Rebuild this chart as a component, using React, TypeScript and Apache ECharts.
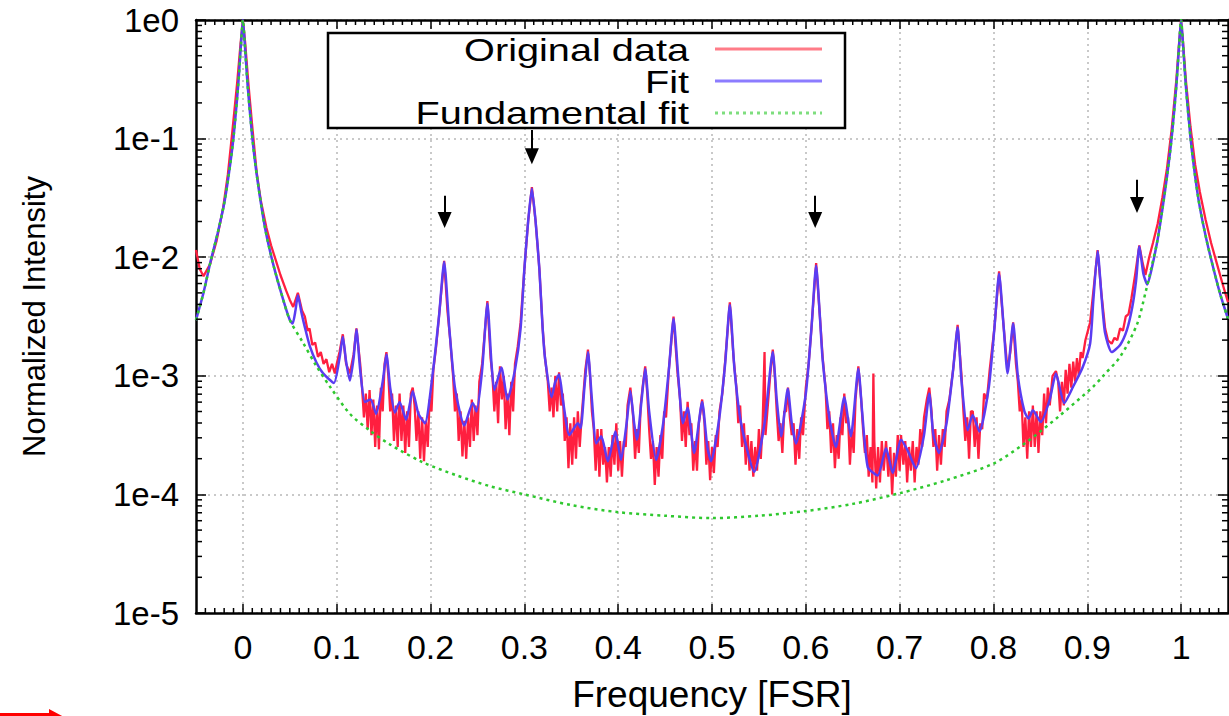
import { useEffect, useRef } from "react";
import * as echarts from "echarts";

// Spectra as [frequency in FSR, log10(normalized intensity)]
const fitLog10: [number, number][] = [
  [-0.05, -2.53], [-0.042, -2.3], [-0.034, -2.02], [-0.027, -1.8], [-0.02, -1.55], [-0.015, -1.3],
  [-0.01, -0.99], [-0.005, -0.55], [-0.002, -0.2], [0, 0], [0.002, -0.2], [0.005, -0.55],
  [0.01, -0.99], [0.015, -1.32], [0.0235, -1.75], [0.032, -2.05], [0.043, -2.36], [0.05, -2.53], [0.053, -2.56],
  [0.056, -2.45], [0.0586, -2.32], [0.0625, -2.47], [0.066, -2.59], [0.0713, -2.75], [0.0785, -2.89],
  [0.0855, -2.98], [0.097, -3.06], [0.103, -2.85], [0.1065, -2.67], [0.11, -2.88], [0.114, -3.04],
  [0.118, -2.85], [0.121, -2.61], [0.125, -2.95], [0.13, -3.22], [0.136, -3.2], [0.142, -3.32],
  [0.149, -3.05], [0.153, -2.82], [0.157, -3.1], [0.162, -3.31], [0.167, -3.22], [0.174, -3.37],
  [0.181, -3.13], [0.187, -3.32], [0.194, -3.4], [0.202, -3.0], [0.209, -2.5], [0.2145, -2.04],
  [0.22, -2.6], [0.226, -3.1], [0.236, -3.42], [0.245, -3.23], [0.249, -3.3], [0.255, -2.95],
  [0.2606, -2.39], [0.265, -2.9], [0.268, -3.12], [0.2755, -2.93], [0.282, -3.2], [0.29, -2.95],
  [0.296, -2.6], [0.3, -2.1], [0.304, -1.7], [0.308, -1.42], [0.312, -1.7], [0.316, -2.1],
  [0.3195, -2.6], [0.322, -2.85], [0.329, -3.18], [0.333, -3.05], [0.337, -2.99], [0.341, -3.2],
  [0.348, -3.5], [0.357, -3.4], [0.36, -3.44], [0.364, -3.1], [0.3678, -2.8], [0.372, -3.2],
  [0.3766, -3.57], [0.382, -3.51], [0.389, -3.72], [0.397, -3.47], [0.403, -3.71], [0.409, -3.4],
  [0.413, -3.13], [0.417, -3.4], [0.42, -3.54], [0.425, -3.2], [0.4288, -2.94], [0.433, -3.3],
  [0.4405, -3.71], [0.448, -3.4], [0.454, -2.95], [0.459, -2.52], [0.464, -3.0], [0.469, -3.4],
  [0.474, -3.27], [0.481, -3.65], [0.4895, -3.22], [0.495, -3.6], [0.499, -3.72], [0.507, -3.4],
  [0.514, -2.9], [0.519, -2.4], [0.524, -2.95], [0.531, -3.4], [0.545, -3.81], [0.556, -3.4],
  [0.5648, -2.8], [0.569, -3.2], [0.5737, -3.51], [0.5808, -3.11], [0.585, -3.4], [0.5896, -3.57],
  [0.6, -3.15], [0.606, -2.6], [0.611, -2.07], [0.615, -2.5], [0.618, -2.87], [0.625, -3.35],
  [0.632, -3.6], [0.641, -3.18], [0.648, -3.51], [0.656, -2.94], [0.66, -3.3], [0.666, -3.77],
  [0.6766, -3.84], [0.6855, -3.61], [0.6926, -3.82], [0.7015, -3.54], [0.7085, -3.63], [0.7174, -3.78],
  [0.726, -3.5], [0.7316, -3.15], [0.736, -3.5], [0.742, -3.65], [0.75, -3.4], [0.757, -2.95],
  [0.7618, -2.59], [0.766, -3.05], [0.7724, -3.46], [0.7778, -3.33], [0.785, -3.47], [0.795, -3.1],
  [0.801, -2.6], [0.806, -2.14], [0.811, -2.6], [0.815, -2.98], [0.821, -2.56], [0.826, -3.0],
  [0.833, -3.3], [0.8375, -3.36], [0.842, -3.29], [0.8505, -3.39], [0.86, -3.2], [0.8666, -2.98],
  [0.8754, -3.23], [0.885, -3.09], [0.895, -2.93], [0.903, -2.73], [0.9065, -2.36], [0.911, -1.95],
  [0.9155, -2.36], [0.919, -2.64], [0.926, -2.8], [0.935, -2.74], [0.942, -2.62], [0.948, -2.42],
  [0.952, -2.2], [0.9555, -1.91], [0.9598, -2.14], [0.964, -2.23], [0.968, -2.12], [0.975, -1.85],
  [0.98, -1.6], [0.985, -1.32], [0.99, -0.99], [0.995, -0.55], [0.998, -0.2], [1, 0],
  [1.002, -0.2], [1.005, -0.55], [1.01, -0.99], [1.015, -1.32], [1.02, -1.58], [1.027, -1.85],
  [1.034, -2.08], [1.042, -2.32], [1.05, -2.52],
];

const fundamentalLog10: [number, number][] = [
  [-0.05, -2.53], [-0.042, -2.3], [-0.034, -2.02], [-0.027, -1.8], [-0.02, -1.55], [-0.015, -1.3],
  [-0.01, -0.99], [-0.005, -0.55], [-0.002, -0.2], [0, 0], [0.002, -0.2], [0.005, -0.55],
  [0.01, -0.99], [0.015, -1.32], [0.0235, -1.75], [0.032, -2.05], [0.043, -2.36], [0.05, -2.53], [0.064, -2.72],
  [0.0785, -2.92], [0.0927, -3.09], [0.114, -3.32], [0.135, -3.46], [0.157, -3.58], [0.192, -3.73],
  [0.228, -3.84], [0.263, -3.93], [0.3, -4.0], [0.35, -4.09], [0.4, -4.15], [0.45, -4.18],
  [0.5, -4.2], [0.55, -4.18], [0.6, -4.14], [0.65, -4.08], [0.7, -3.99], [0.75, -3.88],
  [0.8, -3.74], [0.835, -3.56], [0.87, -3.34], [0.9065, -3.09], [0.917, -3.0], [0.935, -2.84],
  [0.9528, -2.57], [0.962, -2.3], [0.968, -2.1], [0.975, -1.85], [0.98, -1.6], [0.985, -1.32],
  [0.99, -0.99], [0.995, -0.55], [0.998, -0.2], [1, 0], [1.002, -0.2], [1.005, -0.55],
  [1.01, -0.99], [1.015, -1.32], [1.02, -1.58], [1.027, -1.85], [1.034, -2.08], [1.042, -2.32],
  [1.05, -2.52],
];

const originalLog10: [number, number][] = [
  [-0.05, -1.94], [-0.046, -2.1], [-0.042, -2.16], [-0.035, -2.06], [-0.028, -1.86], [-0.021, -1.58],
  [-0.016, -1.3], [-0.011, -0.92], [-0.006, -0.52], [-0.0025, -0.2], [0, 0], [0.0025, -0.2],
  [0.006, -0.55], [0.01, -0.9], [0.0146, -1.28], [0.019, -1.52], [0.025, -1.75], [0.03, -1.9],
  [0.034, -2.0], [0.04, -2.15], [0.046, -2.28], [0.05, -2.36], [0.0536, -2.42], [0.0586, -2.3],
  [0.063, -2.45], [0.066, -2.5], [0.069, -2.62], [0.071, -2.6], [0.074, -2.74], [0.077, -2.72],
  [0.08, -2.84], [0.083, -2.8], [0.086, -2.9], [0.089, -2.86], [0.092, -2.97], [0.095, -2.9],
  [0.098, -2.98], [0.1, -2.9], [0.103, -2.8], [0.1065, -2.65], [0.11, -2.9], [0.114, -2.98],
  [0.118, -2.82], [0.121, -2.6], [0.125, -2.9],
  [0.127, -3.1], [0.129, -3.35], [0.131, -3.15], [0.133, -3.45], [0.135, -3.12], [0.137, -3.5],
  [0.139, -3.2], [0.141, -3.6], [0.143, -3.25], [0.145, -3.62], [0.147, -3.1], [0.149, -3.3],
  [0.151, -2.9], [0.153, -2.8], [0.155, -3.0], [0.157, -3.3], [0.159, -3.15], [0.161, -3.55],
  [0.163, -3.25], [0.165, -3.6], [0.167, -3.15], [0.169, -3.55], [0.171, -3.25], [0.173, -3.65],
  [0.175, -3.3], [0.177, -3.6], [0.179, -3.15], [0.181, -3.1], [0.183, -3.25], [0.185, -3.55],
  [0.187, -3.3], [0.189, -3.7], [0.191, -3.35], [0.193, -3.72], [0.195, -3.38], [0.197, -3.6],
  [0.199, -3.2], [0.201, -3.3], [0.203, -2.95], [0.206, -2.75], [0.209, -2.5], [0.2145, -2.03],
  [0.218, -2.45], [0.221, -2.7], [0.224, -3.0], [0.226, -3.3], [0.228, -3.15], [0.23, -3.55],
  [0.232, -3.3], [0.234, -3.68], [0.236, -3.38], [0.238, -3.7], [0.24, -3.35], [0.242, -3.6],
  [0.244, -3.2], [0.246, -3.55], [0.248, -3.25], [0.25, -3.5], [0.252, -3.05], [0.255, -2.9],
  [0.2606, -2.37], [0.264, -2.85], [0.266, -3.0], [0.268, -3.3], [0.27, -3.05], [0.272, -3.4],
  [0.274, -2.92], [0.276, -3.2], [0.278, -3.0], [0.28, -3.45], [0.282, -3.15], [0.284, -3.5],
  [0.286, -3.05], [0.288, -3.3], [0.29, -2.9], [0.293, -2.75], [0.296, -2.55], [0.3, -2.1],
  [0.304, -1.7], [0.308, -1.41], [0.312, -1.7], [0.316, -2.1], [0.3195, -2.6], [0.322, -2.85],
  [0.325, -3.05], [0.327, -3.3], [0.329, -3.1], [0.331, -3.35], [0.333, -3.0], [0.335, -3.3],
  [0.337, -2.97], [0.339, -3.25], [0.341, -3.15], [0.343, -3.55], [0.345, -3.35], [0.347, -3.78],
  [0.349, -3.4], [0.351, -3.75], [0.353, -3.35], [0.355, -3.7], [0.357, -3.3], [0.359, -3.6],
  [0.361, -3.35], [0.363, -3.15], [0.365, -2.95], [0.3678, -2.78], [0.37, -3.0], [0.372, -3.3],
  [0.374, -3.45], [0.376, -3.8], [0.378, -3.45], [0.38, -3.85], [0.382, -3.45], [0.384, -3.75],
  [0.386, -3.6], [0.388, -3.9], [0.39, -3.6], [0.392, -3.85], [0.394, -3.5], [0.396, -3.75],
  [0.398, -3.4], [0.4, -3.8], [0.402, -3.55], [0.404, -3.85], [0.406, -3.55], [0.408, -3.6],
  [0.41, -3.25], [0.413, -3.1], [0.416, -3.35], [0.418, -3.7], [0.42, -3.45], [0.422, -3.65],
  [0.424, -3.25], [0.426, -3.1], [0.4288, -2.92], [0.431, -3.15], [0.433, -3.45], [0.435, -3.7],
  [0.437, -3.55], [0.439, -3.92], [0.441, -3.6], [0.443, -3.85], [0.445, -3.5], [0.447, -3.7],
  [0.449, -3.3], [0.451, -3.35], [0.454, -2.95], [0.459, -2.5], [0.463, -2.95], [0.466, -3.2],
  [0.468, -3.55], [0.47, -3.3], [0.472, -3.6], [0.474, -3.22], [0.476, -3.5], [0.478, -3.4],
  [0.48, -3.8], [0.482, -3.55], [0.484, -3.8], [0.486, -3.4], [0.4895, -3.2], [0.492, -3.4],
  [0.494, -3.75], [0.496, -3.55], [0.498, -3.88], [0.5, -3.6], [0.502, -3.82], [0.504, -3.5],
  [0.506, -3.6], [0.508, -3.3], [0.511, -3.15], [0.514, -2.88], [0.519, -2.38], [0.523, -2.85],
  [0.526, -3.1], [0.528, -3.4], [0.53, -3.25], [0.532, -3.6], [0.534, -3.4], [0.536, -3.75],
  [0.538, -3.5], [0.54, -3.8], [0.542, -3.55], [0.544, -3.85], [0.546, -3.6], [0.548, -3.8],
  [0.55, -3.45], [0.552, -3.7], [0.554, -3.4], [0.556, -2.8], [0.557, -3.5], [0.559, -3.3],
  [0.562, -3.0], [0.5648, -2.78], [0.567, -3.0], [0.569, -3.3], [0.571, -3.55], [0.573, -3.4],
  [0.575, -3.65], [0.577, -3.3], [0.579, -3.3], [0.581, -3.1], [0.583, -3.35], [0.585, -3.5],
  [0.587, -3.4], [0.589, -3.75], [0.591, -3.45], [0.593, -3.7], [0.595, -3.35], [0.597, -3.5],
  [0.6, -3.1], [0.603, -2.9], [0.606, -2.6], [0.611, -2.05], [0.615, -2.5], [0.618, -2.85],
  [0.621, -3.1], [0.623, -3.45], [0.625, -3.3], [0.627, -3.65], [0.629, -3.4], [0.631, -3.78],
  [0.633, -3.5], [0.635, -3.7], [0.637, -3.35], [0.639, -3.5], [0.641, -3.15], [0.643, -3.4],
  [0.645, -3.35], [0.647, -3.75], [0.649, -3.45], [0.651, -3.65], [0.653, -3.2], [0.656, -2.92],
  [0.659, -3.2], [0.661, -3.45], [0.663, -3.65], [0.665, -3.5], [0.667, -3.85], [0.669, -3.6],
  [0.671, -3.9], [0.672, -2.98], [0.673, -3.55], [0.675, -3.95], [0.677, -3.6], [0.679, -3.9],
  [0.681, -3.55], [0.683, -3.8], [0.6855, -3.55], [0.688, -3.85], [0.69, -3.6], [0.692, -4.0],
  [0.694, -3.65], [0.696, -3.85], [0.698, -3.5], [0.7, -3.8], [0.7015, -3.5], [0.704, -3.75],
  [0.706, -3.55], [0.708, -3.9], [0.71, -3.6], [0.712, -3.8], [0.714, -3.55], [0.716, -3.9],
  [0.718, -3.6], [0.72, -3.75], [0.722, -3.45], [0.724, -3.6], [0.726, -3.35], [0.729, -3.2],
  [0.7316, -3.1], [0.734, -3.3], [0.736, -3.6], [0.738, -3.45], [0.74, -3.8], [0.742, -3.5],
  [0.744, -3.75], [0.746, -3.45], [0.748, -3.6], [0.75, -3.3], [0.753, -3.2], [0.757, -2.95],
  [0.7618, -2.57], [0.766, -3.0], [0.768, -3.3], [0.77, -3.55], [0.772, -3.35], [0.774, -3.7],
  [0.776, -3.3], [0.778, -3.3], [0.78, -3.6], [0.782, -3.35], [0.784, -3.7], [0.786, -3.4],
  [0.788, -3.45], [0.79, -3.15], [0.793, -3.2], [0.796, -2.95], [0.801, -2.6], [0.806, -2.12],
  [0.811, -2.6], [0.815, -2.95], [0.818, -2.8], [0.821, -2.55], [0.824, -2.9], [0.826, -3.05],
  [0.828, -3.3], [0.83, -3.2], [0.832, -3.6], [0.834, -3.35], [0.836, -3.7], [0.838, -3.3],
  [0.84, -3.6], [0.842, -3.25], [0.844, -3.6], [0.846, -3.3], [0.848, -3.65], [0.85, -3.3],
  [0.852, -3.5], [0.854, -3.15], [0.856, -3.4], [0.858, -3.1], [0.86, -3.25], [0.863, -3.0],
  [0.8666, -2.96], [0.869, -3.05], [0.871, -3.3], [0.873, -3.05], [0.875, -3.25], [0.877, -2.95],
  [0.879, -3.15], [0.881, -2.9], [0.883, -3.1], [0.885, -2.88], [0.887, -3.05], [0.889, -2.85],
  [0.891, -3.0], [0.893, -2.8], [0.895, -2.85], [0.898, -2.7], [0.903, -2.55], [0.907, -2.25],
  [0.911, -1.94], [0.915, -2.3], [0.919, -2.6], [0.922, -2.7], [0.926, -2.73], [0.929, -2.68],
  [0.932, -2.7], [0.935, -2.6], [0.938, -2.62], [0.941, -2.5], [0.944, -2.48], [0.947, -2.35],
  [0.951, -2.15], [0.9555, -1.9], [0.959, -2.05], [0.962, -2.15], [0.966, -2.0], [0.97, -1.88],
  [0.975, -1.72], [0.98, -1.5], [0.985, -1.25], [0.99, -0.92], [0.995, -0.5], [0.998, -0.18],
  [1, 0], [1.002, -0.18], [1.005, -0.5], [1.01, -0.9], [1.015, -1.22], [1.02, -1.45],
  [1.026, -1.68], [1.032, -1.88], [1.038, -2.05], [1.044, -2.22], [1.05, -2.38],
];

const xTickValues = [0, 0.1, 0.2, 0.3, 0.4, 0.5, 0.6, 0.7, 0.8, 0.9, 1];
const legendNames = ["Original data", "Fit", "Fundamental fit"];
const seriesColors = ["#ff1f3f", "#5a3cf2", "#2fc82f"];
const legendColors = ["#ff7c88", "#8c7cff", "#7ede7e"];

// Arrows pointing at selected resonances: frequency, tail and head intensity
const arrowX = [0.215, 0.308, 0.61, 0.953];
const arrowTail = [3.3e-2, 0.118, 3.3e-2, 4.5e-2];
const arrowHead = [2.06e-2, 7.1e-2, 2.06e-2, 2.75e-2];

const FONT = "'Liberation Sans', Arial, Helvetica, sans-serif";

const toSeries = (pts: [number, number][]) => pts.map(([x, l]) => [x, Math.pow(10, l)]);

export default function App() {
  const ref = useRef<HTMLDivElement>(null);

  useEffect(() => {
    const el = ref.current;
    if (!el) return;
    const chart = echarts.init(el, null, { renderer: "svg" });

    const frameLine = { show: true, onZero: false, lineStyle: { color: "#000", width: 2.5 } };
    const tickStyle = { color: "#000", width: 1.5 };
    const gridLine = { show: true, lineStyle: { color: "#b8b8b8", width: 1.5, type: [2, 4] } };

    chart.setOption({
      animation: false,
      backgroundColor: "#ffffff",
      grid: { left: 196, right: 1, top: 20, bottom: 103, containLabel: false, outerBoundsMode: "none" },
      xAxis: [
        {
          type: "value",
          min: -0.05,
          max: 1.05,
          splitNumber: 11,
          axisLine: frameLine,
          axisTick: { show: true, inside: true, length: 9, customValues: xTickValues, lineStyle: tickStyle },
          axisLabel: {
            customValues: xTickValues,
            margin: 17,
            color: "#000",
            fontSize: 34,
            fontFamily: FONT,
            formatter: (v: number) => String(Math.round(v * 10) / 10),
          },
          splitLine: gridLine,
          name: "Frequency [FSR]",
          nameLocation: "middle",
          nameGap: 63,
          nameTextStyle: { color: "#000", fontSize: 37, fontFamily: FONT },
        },
        {
          type: "value",
          position: "top",
          min: -0.05,
          max: 1.05,
          splitNumber: 11,
          axisLine: frameLine,
          axisTick: { show: true, inside: true, length: 9, customValues: xTickValues, lineStyle: tickStyle },
          axisLabel: { show: false },
          splitLine: { show: false },
        },
      ],
      yAxis: [
        {
          type: "log",
          logBase: 10,
          min: 1e-5,
          max: 1,
          axisLine: frameLine,
          axisTick: { show: true, inside: true, length: 10, lineStyle: tickStyle },
          axisLabel: {
            margin: 17,
            color: "#000",
            fontSize: 33,
            fontFamily: FONT,
            formatter: (v: number) => `1e${Math.round(Math.log10(v))}`,
          },
          splitLine: gridLine,
          name: "Normalized Intensity",
          nameLocation: "middle",
          nameGap: 146,
          nameTextStyle: { color: "#000", fontSize: 31, fontFamily: FONT },
        },
        {
          type: "log",
          logBase: 10,
          position: "right",
          min: 1e-5,
          max: 1,
          axisLine: frameLine,
          axisTick: { show: true, inside: true, length: 10, lineStyle: tickStyle },
          axisLabel: { show: false },
          splitLine: { show: false },
        },
      ],
      series: [
        {
          name: legendNames[0],
          type: "line",
          data: toSeries(originalLog10),
          symbol: "none",
          lineStyle: { color: seriesColors[0], width: 2.3 },
          z: 2,
        },
        {
          name: legendNames[1],
          type: "line",
          data: toSeries(fitLog10),
          symbol: "none",
          smooth: 0.2,
          lineStyle: { color: seriesColors[1], width: 2.5 },
          z: 3,
          markLine: {
            silent: true,
            symbol: ["none", "triangle"],
            symbolSize: [14, 16],
            label: { show: false },
            emphasis: { disabled: true },
            lineStyle: { color: "#000", width: 2, type: "solid" },
            data: arrowX.map((x, i) => [{ coord: [x, arrowTail[i]] }, { coord: [x, arrowHead[i]] }]),
          },
        },
        {
          name: legendNames[2],
          type: "line",
          data: toSeries(fundamentalLog10),
          symbol: "none",
          smooth: 0.3,
          lineStyle: { color: seriesColors[2], width: 2.5, type: [3, 4] },
          z: 4,
        },
      ],
    });

    // Minor ticks on all four frame sides, placed through the axis scales
    const px = (v: number) => chart.convertToPixel({ xAxisIndex: 0 }, v) as number;
    const py = (v: number) => chart.convertToPixel({ yAxisIndex: 0 }, v) as number;
    const left = px(-0.05);
    const right = px(1.05);
    const top = py(1);
    const bottom = py(1e-5);
    const minorStyle = { stroke: "#000", lineWidth: 1.5 };
    const elements: any[] = [];
    for (let i = -4; i <= 104; i++) {
      if (i % 10 === 0) continue;
      const x = px(i / 100);
      elements.push({ type: "line", silent: true, z: 50, shape: { x1: x, y1: bottom, x2: x, y2: bottom - 5 }, style: minorStyle });
      elements.push({ type: "line", silent: true, z: 50, shape: { x1: x, y1: top, x2: x, y2: top + 5 }, style: minorStyle });
    }
    for (let n = -5; n < 0; n++) {
      for (let k = 2; k <= 9; k++) {
        const y = py(k * Math.pow(10, n));
        elements.push({ type: "line", silent: true, z: 50, shape: { x1: left, y1: y, x2: left + 6, y2: y }, style: minorStyle });
        elements.push({ type: "line", silent: true, z: 50, shape: { x1: right, y1: y, x2: right - 6, y2: y }, style: minorStyle });
      }
    }

    // Key box in the upper part of the plot
    const keyRows = [50, 82, 113];
    const keyLineRows = [49, 81, 113];
    elements.push({
      type: "rect",
      z: 60,
      shape: { x: 328, y: 33, width: 517, height: 95 },
      style: { fill: "#ffffff", stroke: "#000", lineWidth: 2.5 },
    });
    legendNames.forEach((name, i) => {
      elements.push({
        type: "text",
        z: 61,
        x: 689,
        y: keyRows[i],
        scaleX: 1.24,
        style: { text: name, fill: "#000", fontSize: 32, fontFamily: FONT, align: "right", verticalAlign: "middle" },
      });
      elements.push({
        type: "line",
        z: 61,
        shape: { x1: 715, y1: keyLineRows[i], x2: 822, y2: keyLineRows[i] },
        style: { stroke: legendColors[i], lineWidth: 3, lineDash: i === 2 ? [3, 4] : null },
      });
    });

    // Red pointer at the lower-left corner of the figure
    elements.push({
      type: "polygon",
      z: 70,
      shape: { points: [[0, 713], [49, 713], [49, 709], [64, 717], [49, 725], [49, 721], [0, 721]] },
      style: { fill: "#ff0000" },
    });

    chart.setOption({ graphic: elements });

    return () => chart.dispose();
  }, []);

  return (
    <div
      ref={ref}
      style={{ position: "fixed", left: 0, top: 0, width: 1229, height: 716, background: "#ffffff" }}
    />
  );
}
